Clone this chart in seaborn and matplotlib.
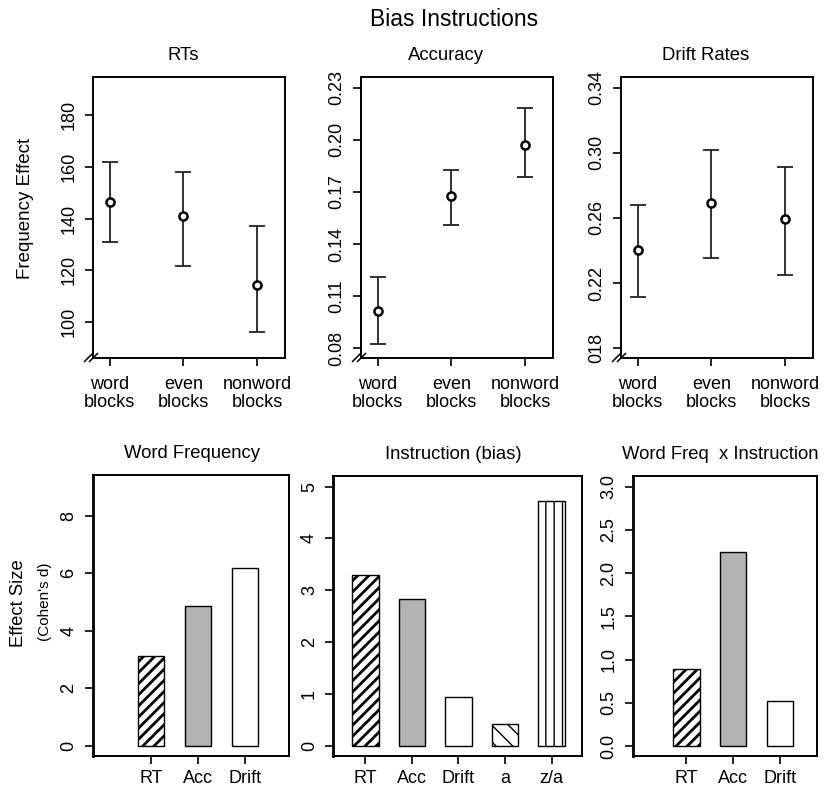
import numpy as np
import pandas as pd
import matplotlib
matplotlib.use("Agg")
import matplotlib.pyplot as plt
import seaborn as sns

# ---------------- data ----------------
conditions = ["word\nblocks", "even\nblocks", "nonword\nblocks"]

rt_mean = [146.3, 141.0, 114.5]
rt_lo = [131.0, 121.5, 96.0]
rt_hi = [162.0, 158.0, 137.2]
rt_ticks = [100, 120, 140, 160, 180]
rt_ticklabels = ["100", "120", "140", "160", "180"]

acc_mean = [0.1016, 0.1675, 0.1973]
acc_lo = [0.0823, 0.1507, 0.1786]
acc_hi = [0.1212, 0.1825, 0.2182]
acc_ticks = [0.08, 0.11, 0.14, 0.17, 0.20, 0.23]
acc_ticklabels = ["0.08", "0.11", "0.14", "0.17", "0.20", "0.23"]

drift_mean = [0.2401, 0.2693, 0.2592]
drift_lo = [0.2113, 0.2356, 0.2249]
drift_hi = [0.2681, 0.3014, 0.2914]
drift_ticks = [0.18, 0.22, 0.26, 0.30, 0.34]
drift_ticklabels = ["018", "0.22", "0.26", "0.30", "0.34"]

wf_labels = ["RT", "Acc", "Drift"]
wf_values = [3.11, 4.85, 6.20]
wf_ticks = [0, 2, 4, 6, 8]

instr_labels = ["RT", "Acc", "Drift", "a", "z/a"]
instr_values = [3.30, 2.83, 0.94, 0.42, 4.72]
instr_ticks = [0, 1, 2, 3, 4, 5]

wfxi_labels = ["RT", "Acc", "Drift"]
wfxi_values = [0.895, 2.25, 0.524]
wfxi_ticks = [0.0, 0.5, 1.0, 1.5, 2.0, 2.5, 3.0]
wfxi_ticklabels = ["0.0", "0.5", "1.0", "1.5", "2.0", "2.5", "3.0"]

# ---------------- styles ----------------
bar_fill = {"RT": "white", "Acc": "#b3b3b3", "Drift": "white", "a": "white", "z/a": "white"}
bar_hatch = {"RT": "///", "Acc": None, "Drift": None, "a": "\\\\", "z/a": "||"}
bar_hatch_lw = {"RT": 2.0, "a": 1.0, "z/a": 1.0}

sns.set_theme(style="white")
plt.rcParams["font.family"] = ["Liberation Sans", "DejaVu Sans"]
plt.rcParams["axes.edgecolor"] = "black"
plt.rcParams["axes.linewidth"] = 1.4
plt.rcParams["xtick.color"] = "black"
plt.rcParams["ytick.color"] = "black"
plt.rcParams["text.color"] = "black"

W, H = 824, 788
fig = plt.figure(figsize=(W / 100, H / 100), dpi=100)


def px_axes(left, top, right, bottom):
    return fig.add_axes([left / W, 1 - bottom / H, (right - left) / W, (bottom - top) / H])


TICK_FS = 13
TITLE_FS = 13.3


def style_axis(ax):
    for s in ax.spines.values():
        s.set_visible(True)
        s.set_color("black")
        s.set_linewidth(1.4)
    ax.tick_params(axis="both", direction="out", length=6, width=1.2,
                   labelsize=TICK_FS, bottom=True, left=True, top=False, right=False)
    ax.tick_params(axis="y", labelrotation=90, pad=5)
    for lab in ax.get_yticklabels():
        lab.set_va("center")
    ax.set_xlabel("")
    ax.set_ylabel("")


def set_title(ax, text, xfrac):
    t = ax.set_title(text, fontsize=TITLE_FS, pad=12)
    t.set_x(xfrac)


def break_mark(ax):
    # small "//" axis-break symbol at the bottom-left corner
    bb = ax.get_position()
    wpx, hpx = bb.width * W, bb.height * H
    for dx in (-4.0, 1.0):
        x0, y0 = (dx - 5) / wpx, (-4) / hpx
        x1, y1 = (dx + 4) / wpx, (5) / hpx
        ax.plot([x0, x1], [y0, y1], transform=ax.transAxes, color="black",
                lw=1.1, clip_on=False, solid_capstyle="butt")


def point_panel(ax, mean, lo, hi, ticks, ticklabels, ylim, title, title_x):
    df = pd.DataFrame({"pos": np.arange(len(conditions)), "cond": conditions,
                       "mean": mean, "lo": lo, "hi": hi})
    yerr = np.vstack([df["mean"] - df["lo"], df["hi"] - df["mean"]])
    ax.errorbar(df["pos"], df["mean"], yerr=yerr, fmt="none", ecolor="#222222",
                elinewidth=1.3, capsize=6, capthick=1.3, zorder=2)
    sns.scatterplot(data=df, x="pos", y="mean", ax=ax, marker="o", s=34,
                    facecolor="white", edgecolor="black", linewidth=1.8, zorder=3)
    ax.set_xlim(-0.23, 2.38)
    ax.set_ylim(*ylim)
    ax.set_xticks(df["pos"])
    ax.set_xticklabels(conditions, linespacing=1.1)
    ax.set_yticks(ticks)
    ax.set_yticklabels(ticklabels)
    style_axis(ax)
    ax.tick_params(axis="x", pad=7)
    set_title(ax, title, title_x)
    break_mark(ax)


def bar_panel(ax, labels, values, ticks, ticklabels, ylim, xlim, title, title_x):
    df = pd.DataFrame({"measure": labels, "d": values})
    sns.barplot(data=df, x="measure", y="d", hue="measure", order=labels, hue_order=labels,
                palette=[bar_fill[l] for l in labels], saturation=1, width=0.565,
                edgecolor="black", linewidth=1.0, legend=False, ax=ax)
    for lab, cont in zip(labels, ax.containers):
        for p in cont:
            h = bar_hatch[lab]
            if h:
                p.set_hatch(h)
                if hasattr(p, "set_hatch_linewidth"):
                    p.set_hatch_linewidth(bar_hatch_lw[lab])
    ax.set_xlim(*xlim)
    ax.set_ylim(*ylim)
    ax.set_yticks(ticks)
    ax.set_yticklabels(ticklabels)
    style_axis(ax)
    ax.tick_params(axis="x", pad=4)
    ax.spines["left"].set_linewidth(2.0)
    set_title(ax, title, title_x)


# top row
ax1 = px_axes(93, 77, 285, 358)
point_panel(ax1, rt_mean, rt_lo, rt_hi, rt_ticks, rt_ticklabels, (86.1, 194.7), "RTs", 0.47)
ax2 = px_axes(361, 77, 553, 358)
point_panel(ax2, acc_mean, acc_lo, acc_hi, acc_ticks, acc_ticklabels, (0.0744, 0.2362), "Accuracy", 0.445)
ax3 = px_axes(621, 77, 813, 358)
point_panel(ax3, drift_mean, drift_lo, drift_hi, drift_ticks, drift_ticklabels, (0.174, 0.3465), "Drift Rates", 0.44)

# bottom row
ax4 = px_axes(92.7, 475, 288.7, 755.7)
bar_panel(ax4, wf_labels, wf_values, wf_ticks, [str(t) for t in wf_ticks],
          (-0.35, 9.42), (-1.24, 2.93), "Word Frequency", 0.509)
ax5 = px_axes(333.3, 475.7, 582.3, 755.7)
bar_panel(ax5, instr_labels, instr_values, instr_ticks, [str(t) for t in instr_ticks],
          (-0.187, 5.21), (-0.69, 4.66), "Instruction (bias)", 0.481)
ax6 = px_axes(632.7, 475.7, 816.7, 755.7)
bar_panel(ax6, wfxi_labels, wfxi_values, wfxi_ticks, wfxi_ticklabels,
          (-0.112, 3.127), (-1.15, 2.79), "Word Freq  x Instruction", 0.477)

# labels
fig.text(454 / W, 1 - 20 / H, "Bias Instructions", ha="center", va="center", fontsize=16.5)
fig.text(25 / W, 1 - 208 / H, "Frequency Effect", rotation=90, ha="center", va="center", fontsize=13.5)
fig.text(19 / W, 1 - 603 / H, "Effect Size", rotation=90, ha="center", va="center", fontsize=13.3)
fig.text(45 / W, 1 - 602 / H, "(Cohen's d)", rotation=90, ha="center", va="center", fontsize=11)

fig.savefig("out.png", dpi=100)
